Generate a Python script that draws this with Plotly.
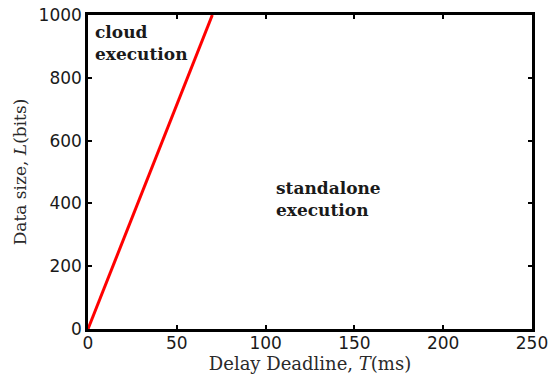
import plotly.graph_objects as go

# Boundary line between cloud and standalone execution
deadline_ms = [0, 70]
data_bits = [0, 1000]

x_ticks = [0, 50, 100, 150, 200, 250]
y_ticks = [0, 200, 400, 600, 800, 1000]

fig = go.Figure()
fig.add_trace(go.Scatter(x=deadline_ms, y=data_bits, mode="lines",
                         line=dict(color="#ff0000", width=3), showlegend=False))

serif = "DejaVu Serif, serif"
sans = "DejaVu Sans, sans-serif"

fig.add_annotation(x=3, y=985, xref="x", yref="y", xanchor="left", yanchor="top",
                   text="<b>cloud<br>execution</b>", showarrow=False, align="left",
                   font=dict(family=serif, size=17, color="#1a1a1a"))
fig.add_annotation(x=105, y=487, xref="x", yref="y", xanchor="left", yanchor="top",
                   text="<b>standalone<br>execution</b>", showarrow=False, align="left",
                   font=dict(family=serif, size=17, color="#1a1a1a"))

axis_common = dict(showgrid=False, zeroline=False, showline=True, linecolor="black",
                   linewidth=2.5, mirror="ticks", ticks="inside", ticklen=4,
                   tickcolor="black", tickwidth=1.5, automargin=False,
                   tickfont=dict(family=sans, size=17, color="#1a1a1a"))

fig.update_xaxes(range=[0, 250], tickvals=x_ticks, ticklabelstandoff=-3,
                 title=dict(text="Delay Deadline, <i>T</i>(ms)", standoff=4,
                            font=dict(family=serif, size=18, color="#2a2a2a")),
                 **axis_common)
fig.update_yaxes(range=[0, 1000], tickvals=y_ticks,
                 title=dict(text="Data size, <i>L</i>(bits)", standoff=8,
                            font=dict(family=serif, size=17, color="#2a2a2a")),
                 **axis_common)

fig.update_layout(width=552, height=374, margin=dict(l=88, r=20, t=15, b=45),
                  plot_bgcolor="white", paper_bgcolor="white")

# remove the default 8px page margin so the figure fills the window exactly
fig.write_html("out.html", config={"displayModeBar": False},
               post_script="document.body.style.margin='0';")
